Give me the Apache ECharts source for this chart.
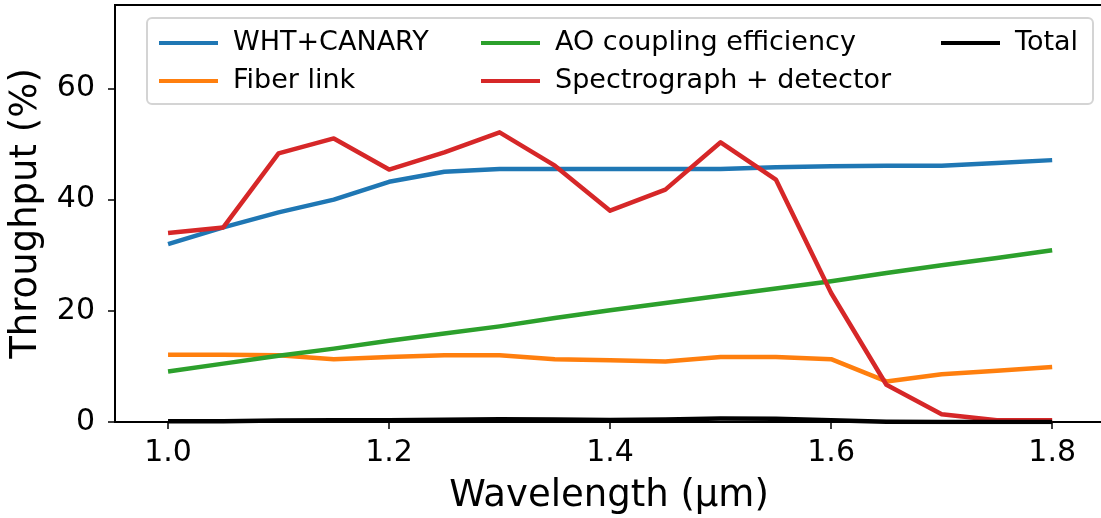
<!DOCTYPE html>
<html>
<head>
<meta charset="utf-8">
<script src="https://cdn.jsdelivr.net/npm/echarts@6/dist/echarts.min.js"></script>
<style>
  html, body { margin: 0; padding: 0; background: #fff; }
  #main { width: 1101px; height: 518px; }
</style>
</head>
<body>
<div id="main"></div>
<script>
// wavelength grid (um)
var wavelength = [1.0, 1.05, 1.1, 1.15, 1.2, 1.25, 1.3, 1.35, 1.4, 1.45, 1.5, 1.55, 1.6, 1.65, 1.7, 1.75, 1.8];

// throughput (%)
var whtCanary = [32.0, 35.0, 37.7, 40.0, 43.2, 45.0, 45.5, 45.5, 45.5, 45.5, 45.5, 45.8, 46.0, 46.1, 46.1, 46.6, 47.1];
var fiberLink = [12.1, 12.1, 12.0, 11.3, 11.7, 12.0, 12.0, 11.3, 11.1, 10.9, 11.7, 11.7, 11.3, 7.3, 8.6, 9.2, 9.9];
var aoCoupling = [9.1, 10.5, 11.9, 13.2, 14.6, 15.9, 17.2, 18.7, 20.1, 21.4, 22.7, 24.0, 25.3, 26.8, 28.2, 29.5, 30.9];
var spectrograph = [34.0, 35.0, 48.3, 51.0, 45.4, 48.5, 52.1, 46.1, 38.0, 41.8, 50.3, 43.6, 23.2, 6.7, 1.4, 0.3, 0.3];
var total = [0.12, 0.15, 0.26, 0.30, 0.33, 0.42, 0.49, 0.44, 0.38, 0.44, 0.61, 0.57, 0.31, 0.06, 0.02, 0.01, 0.0];

var xTicks = [1.0, 1.2, 1.4, 1.6, 1.8];
var yTicks = [0, 20, 40, 60];

var seriesNames = ['WHT+CANARY', 'Fiber link', 'AO coupling efficiency', 'Spectrograph + detector', 'Total'];
var seriesColors = ['#1f77b4', '#ff7f0e', '#2ca02c', '#d62728', '#000000'];
var seriesValues = [whtCanary, fiberLink, aoCoupling, spectrograph, total];

var myChart = echarts.init(document.getElementById('main'));

function pairs(vals) {
  var out = [];
  for (var i = 0; i < wavelength.length; i++) {
    out.push([wavelength[i], vals[i]]);
  }
  return out;
}

var series = [];
for (var k = 0; k < seriesNames.length; k++) {
  series.push({
    name: seriesNames[k],
    type: 'line',
    data: pairs(seriesValues[k]),
    showSymbol: false,
    symbol: 'none',
    animation: false,
    lineStyle: { color: seriesColors[k], width: 4.5, join: 'round', cap: 'butt' },
    itemStyle: { color: seriesColors[k] },
    z: 3
  });
}

var fontFamily = 'DejaVu Sans';
var legendText = { fontFamily: fontFamily, fontSize: 27, color: '#000', lineHeight: 38, padding: [0, 0, 0, 10] };

function legendCol(left, names) {
  return {
    orient: 'vertical',
    left: left,
    top: 19,
    itemGap: 0,
    itemWidth: 59,
    itemHeight: 4,
    icon: 'rect',
    data: names,
    selectedMode: false,
    textStyle: legendText,
    z: 10
  };
}

var option = {
  backgroundColor: '#fff',
  animation: false,
  grid: {
    left: 115,
    top: 5,
    width: 988,
    height: 417,
    show: true,
    borderColor: '#000',
    borderWidth: 2,
    containLabel: false,
    outerBoundsMode: 'none'
  },
  legend: [
    legendCol(154, ['WHT+CANARY', 'Fiber link']),
    legendCol(476, ['AO coupling efficiency', 'Spectrograph + detector']),
    legendCol(936, ['Total'])
  ],
  graphic: [{
    type: 'rect',
    shape: { x: 147, y: 18, width: 946, height: 86, r: 5 },
    style: { fill: 'rgba(255,255,255,0.8)', stroke: '#d4d4d4', lineWidth: 2 },
    z: 5
  }],
  xAxis: {
    type: 'value',
    min: 0.952,
    max: 1.846,
    name: 'Wavelength (\u00b5m)',
    nameLocation: 'middle',
    nameGap: 56,
    nameTextStyle: { fontFamily: fontFamily, fontSize: 37, color: '#000' },
    axisLine: { show: true, onZero: false, lineStyle: { color: '#000', width: 2 } },
    axisTick: { show: true, length: 7, customValues: xTicks, lineStyle: { color: '#000', width: 1.5 } },
    axisLabel: {
      show: true,
      customValues: xTicks,
      margin: 16,
      fontFamily: fontFamily,
      fontSize: 30,
      color: '#000',
      formatter: function (v) { return v.toFixed(1); }
    },
    splitLine: { show: false }
  },
  yAxis: {
    type: 'value',
    min: 0,
    max: 75,
    name: 'Throughput (%)',
    nameLocation: 'middle',
    nameGap: 70,
    nameTextStyle: { fontFamily: fontFamily, fontSize: 37, color: '#000' },
    axisLine: { show: true, lineStyle: { color: '#000', width: 2 } },
    axisTick: { show: true, length: 7, customValues: yTicks, lineStyle: { color: '#000', width: 1.5 } },
    axisLabel: {
      show: true,
      customValues: yTicks,
      margin: 20,
      fontFamily: fontFamily,
      fontSize: 30,
      color: '#000'
    },
    splitLine: { show: false }
  },
  series: series
};

myChart.setOption(option);
</script>
</body>
</html>
